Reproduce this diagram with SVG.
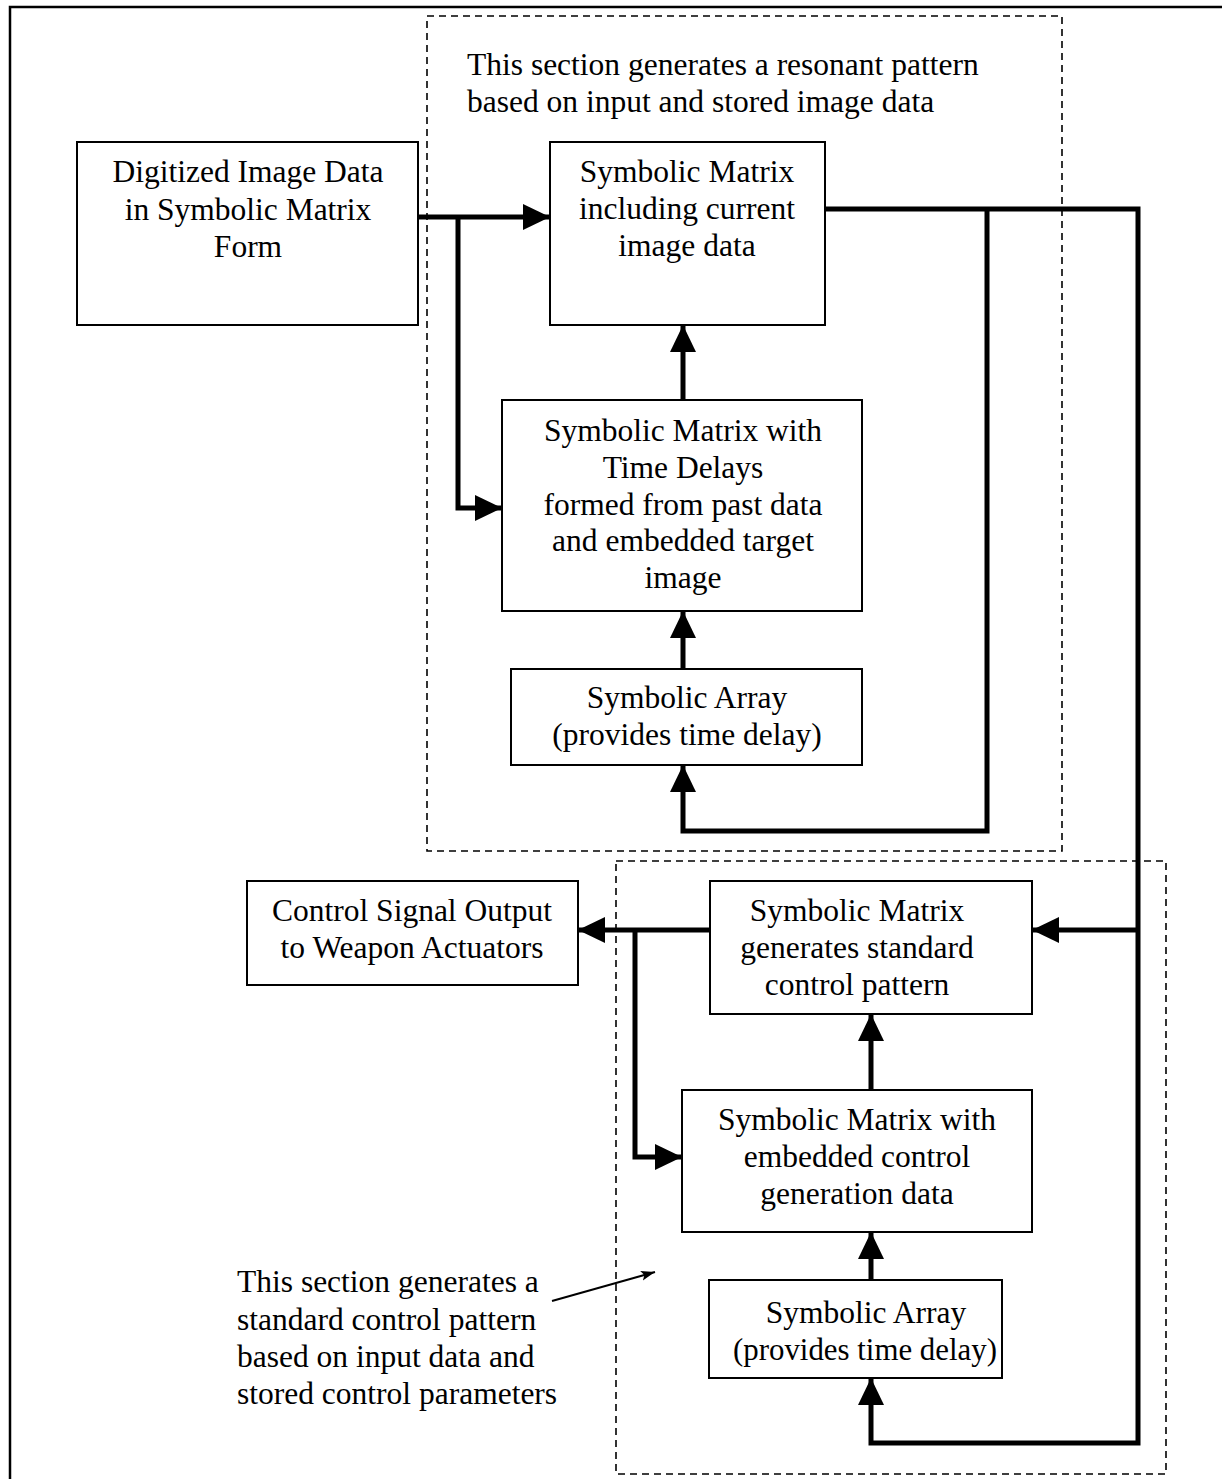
<svg xmlns="http://www.w3.org/2000/svg" width="1222" height="1479" viewBox="0 0 1222 1479">
<style>
.box{fill:#fff;stroke:#000;stroke-width:2}
.dash{fill:none;stroke:#000;stroke-width:1.6;stroke-dasharray:7 5}
.t{font-family:"Liberation Serif","Times New Roman",serif;font-size:31.5px;fill:#000}
.c{text-anchor:middle}
.con{fill:none;stroke:#000;stroke-width:5;stroke-linejoin:miter}
</style>
<defs>
<marker id="ah" markerUnits="userSpaceOnUse" markerWidth="28" markerHeight="28" refX="27" refY="13" orient="auto" viewBox="0 0 28 26">
<path d="M0,0 L27,13 L0,26 Z" fill="#000"/>
</marker>
<marker id="sa" markerUnits="userSpaceOnUse" markerWidth="16" markerHeight="12" refX="14" refY="5" orient="auto" viewBox="0 0 16 10">
<path d="M0,0 L14,5 L0,10 L3,5 Z" fill="#000"/>
</marker>
</defs>
<rect width="1222" height="1479" fill="#fff"/>
<rect x="10" y="7" width="1230" height="1490" fill="none" stroke="#000" stroke-width="2.5"/>

<g id="section-top">
<rect class="dash" x="427" y="16" width="635" height="835"/>
<text class="t" x="467" y="75">This section generates a resonant pattern</text>
<text class="t" x="467" y="112">based on input and stored image data</text>
</g>
<g id="section-bottom">
<rect class="dash" x="616" y="861" width="550" height="613"/>
</g>

<g id="connectors">
<path class="con" d="M418,217 H550" marker-end="url(#ah)"/>
<path class="con" d="M458,217 V508 H502" marker-end="url(#ah)"/>
<path class="con" d="M683,400 V325" marker-end="url(#ah)"/>
<path class="con" d="M683,669 V611" marker-end="url(#ah)"/>
<path class="con" d="M825,209 H1138 V1443 H871 V1378" marker-end="url(#ah)"/>
<path class="con" d="M987,209 V831 H683 V765" marker-end="url(#ah)"/>
<path class="con" d="M1138,930 H1032" marker-end="url(#ah)"/>
<path class="con" d="M710,930 H578" marker-end="url(#ah)"/>
<path class="con" d="M635,930 V1157 H682" marker-end="url(#ah)"/>
<path class="con" d="M871,1090 V1014" marker-end="url(#ah)"/>
<path class="con" d="M871,1280 V1232" marker-end="url(#ah)"/>
<path fill="none" stroke="#000" stroke-width="2" d="M552,1301 L655,1272" marker-end="url(#sa)"/>
</g>

<g id="n-digitized">
<rect class="box" x="77" y="142" width="341" height="183"/>
<text class="t c" x="248" y="182">Digitized Image Data</text>
<text class="t c" x="248" y="220">in Symbolic Matrix</text>
<text class="t c" x="248" y="257">Form</text>
</g>
<g id="n-current">
<rect class="box" x="550" y="142" width="275" height="183"/>
<text class="t c" x="687" y="182">Symbolic Matrix</text>
<text class="t c" x="687" y="219">including current</text>
<text class="t c" x="687" y="256">image data</text>
</g>
<g id="n-timedelays">
<rect class="box" x="502" y="400" width="360" height="211"/>
<text class="t c" x="683" y="441">Symbolic Matrix with</text>
<text class="t c" x="683" y="478">Time Delays</text>
<text class="t c" x="683" y="515">formed from past data</text>
<text class="t c" x="683" y="551">and embedded target</text>
<text class="t c" x="683" y="588">image</text>
</g>
<g id="n-array-top">
<rect class="box" x="511" y="669" width="351" height="96"/>
<text class="t c" x="687" y="708">Symbolic Array</text>
<text class="t c" x="687" y="745">(provides time delay)</text>
</g>
<g id="n-output">
<rect class="box" x="247" y="881" width="331" height="104"/>
<text class="t c" x="412" y="921">Control Signal Output</text>
<text class="t c" x="412" y="958">to Weapon Actuators</text>
</g>
<g id="n-standard">
<rect class="box" x="710" y="881" width="322" height="133"/>
<text class="t c" x="857" y="921">Symbolic Matrix</text>
<text class="t c" x="857" y="958">generates standard</text>
<text class="t c" x="857" y="995">control pattern</text>
</g>
<g id="n-embedded">
<rect class="box" x="682" y="1090" width="350" height="142"/>
<text class="t c" x="857" y="1130">Symbolic Matrix with</text>
<text class="t c" x="857" y="1167">embedded control</text>
<text class="t c" x="857" y="1204">generation data</text>
</g>
<g id="n-array-bottom">
<rect class="box" x="709" y="1280" width="293" height="98"/>
<text class="t c" x="866" y="1323">Symbolic Array</text>
<text class="t c" x="865" y="1360" textLength="264" lengthAdjust="spacingAndGlyphs">(provides time delay)</text>
</g>
<g id="annotation">
<text class="t" x="237" y="1292">This section generates a</text>
<text class="t" x="237" y="1330">standard control pattern</text>
<text class="t" x="237" y="1367">based on input data and</text>
<text class="t" x="237" y="1404">stored control parameters</text>
</g>
</svg>
